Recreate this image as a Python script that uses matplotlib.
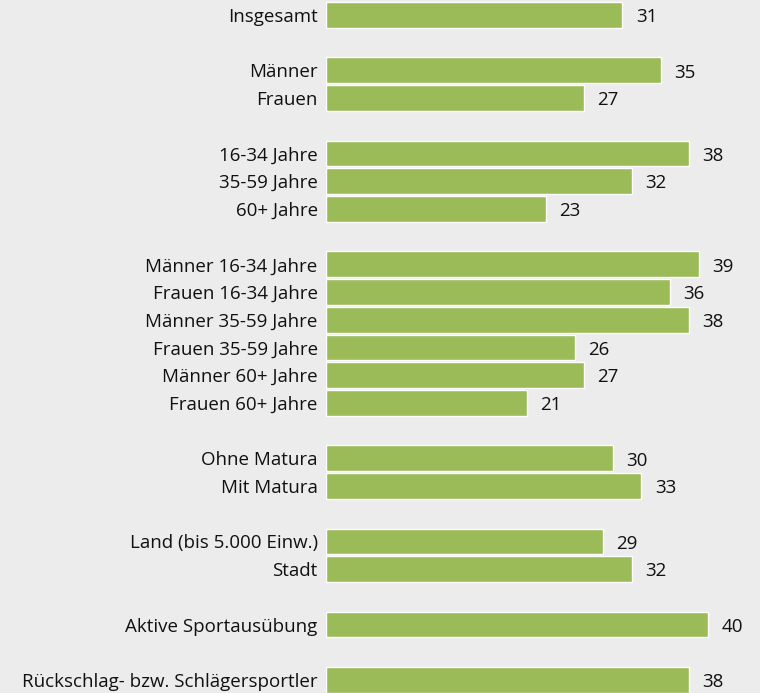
import numpy as np
import matplotlib.pyplot as plt

# Kategorien (None = Leerzeile zwischen Gruppen)
labels = ["Insgesamt", None,
          "Männer", "Frauen", None,
          "16-34 Jahre", "35-59 Jahre", "60+ Jahre", None,
          "Männer 16-34 Jahre", "Frauen 16-34 Jahre", "Männer 35-59 Jahre",
          "Frauen 35-59 Jahre", "Männer 60+ Jahre", "Frauen 60+ Jahre", None,
          "Ohne Matura", "Mit Matura", None,
          "Land (bis 5.000 Einw.)", "Stadt", None,
          "Aktive Sportausübung", None,
          "Rückschlag- bzw. Schlägersportler"]
values = [31, None,
          35, 27, None,
          38, 32, 23, None,
          39, 36, 38, 26, 27, 21, None,
          30, 33, None,
          29, 32, None,
          40, None,
          38]

bg = "#ececec"
green = "#9bbb59"

plt.rcParams['font.family'] = ['Open Sans', 'DejaVu Sans']

fig = plt.figure(figsize=(7.6, 6.93), dpi=100, facecolor=bg)
ax = fig.add_axes([326 / 760, 0, 1 - 326 / 760, 1])
ax.set_facecolor(bg)

pos = [i for i, v in enumerate(values) if v is not None]
vals = [values[i] for i in pos]
names = [labels[i] for i in pos]

ax.barh(pos, vals, height=0.93, color=green, edgecolor="white", linewidth=1)
for p, v in zip(pos, vals):
    ax.text(v + 1.4, p + 0.08, str(v), va="center", ha="left", fontsize=13.5, color="#111111")

ax.set_yticks(pos)
ax.set_yticklabels(names, fontsize=13.5, color="#111111")
ax.tick_params(axis="y", length=0, pad=6)
ax.set_xticks([])
ax.set_xlim(0, 45.4)
ax.set_ylim(len(values) - 1 + 0.47, -0.54)
for s in ax.spines.values():
    s.set_visible(False)

fig.savefig("out.png", dpi=100, facecolor=bg)
